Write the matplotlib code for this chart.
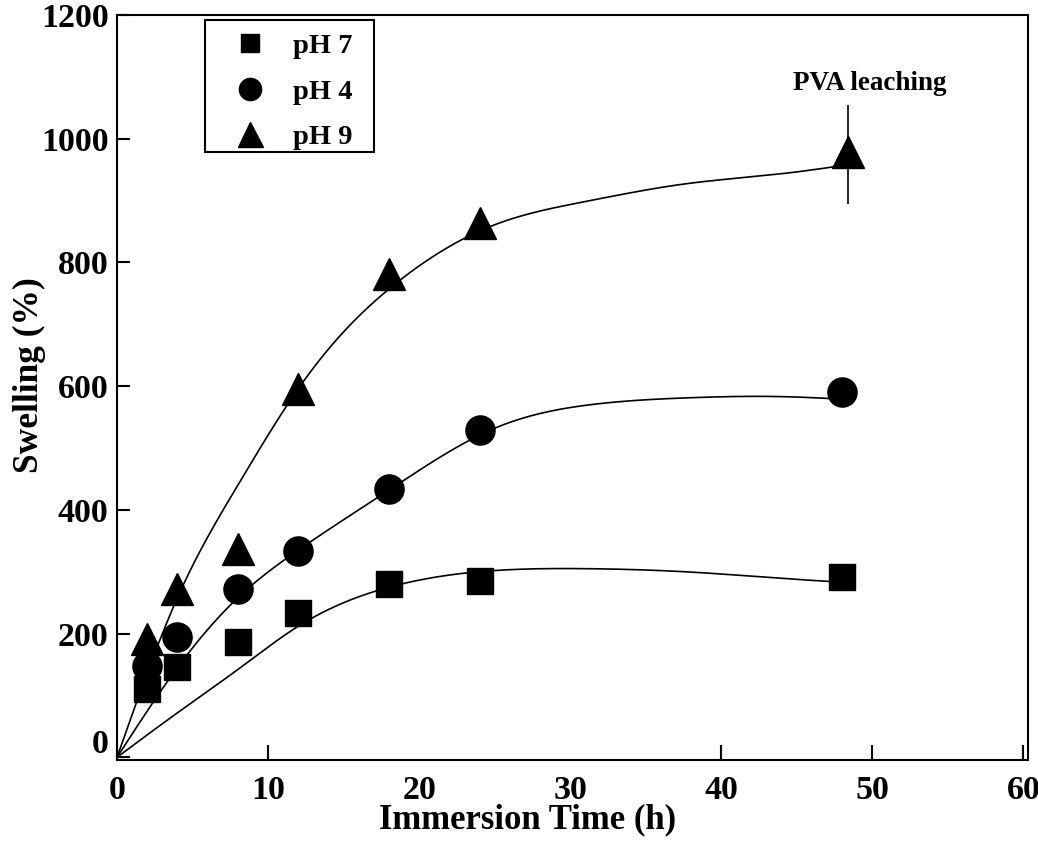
import numpy as np
import matplotlib
matplotlib.use("Agg")
import matplotlib.pyplot as plt
from matplotlib.lines import Line2D
from matplotlib.patches import Rectangle
from matplotlib.transforms import ScaledTranslation

# ==============================
# Data
# ==============================
time_h = [2, 4, 8, 12, 18, 24, 48]
time_ph9 = [2, 4, 8, 12, 18, 24, 48.4]

swell_ph7 = [111, 146, 186, 233, 280, 285, 291]
swell_ph4 = [147, 194, 272, 333, 433, 529, 590]
swell_ph9 = [192, 272, 336, 596, 782, 863, 979]

leach_err = 80          # vertical bar on last pH 9 point

# fitted trend lines
fit7_x = [0, 4, 8, 12, 18, 25, 31, 37.6, 44.2, 48]
fit7_y = [0, 72, 142, 212, 275, 302, 305, 300, 289, 283]

fit4_x = [0, 4, 8, 12, 18, 25, 31, 37.6, 44.2, 48]
fit4_y = [0, 145, 258, 335, 432, 532, 569, 581, 583, 579]

fit9_x = [0, 4, 8, 12, 14.67, 18, 24.9, 30.9, 37.6, 44.2, 48.4]
fit9_y = [0, 258, 440, 596, 679, 757, 860, 898, 927, 944, 958]

x_ticks = [0, 10, 20, 30, 40, 50, 60]
y_ticks = [0, 200, 400, 600, 800, 1000, 1200]


def natural_spline(xk, yk, n=400):
    xk = np.asarray(xk, float)
    yk = np.asarray(yk, float)
    m = len(xk)
    h = np.diff(xk)
    A = np.zeros((m, m))
    r = np.zeros(m)
    A[0, 0] = A[-1, -1] = 1
    for i in range(1, m - 1):
        A[i, i - 1] = h[i - 1]
        A[i, i] = 2 * (h[i - 1] + h[i])
        A[i, i + 1] = h[i]
        r[i] = 6 * ((yk[i + 1] - yk[i]) / h[i] - (yk[i] - yk[i - 1]) / h[i - 1])
    M = np.linalg.solve(A, r)
    xs = np.linspace(xk[0], xk[-1], n)
    idx = np.clip(np.searchsorted(xk, xs) - 1, 0, m - 2)
    x0, x1 = xk[idx], xk[idx + 1]
    hh = x1 - x0
    a = (x1 - xs) / hh
    b = (xs - x0) / hh
    ys = (a * yk[idx] + b * yk[idx + 1]
          + ((a**3 - a) * M[idx] + (b**3 - b) * M[idx + 1]) * hh**2 / 6)
    return xs, ys


# ==============================
# Figure
# ==============================
plt.rcParams['font.family'] = ['Liberation Serif', 'DejaVu Serif']
plt.rcParams['font.weight'] = 'bold'

fig = plt.figure(figsize=(10.38, 8.5), dpi=100)
ax = fig.add_axes([117 / 1038, 1 - 760 / 850, 911 / 1038, 745 / 850])

for fx, fy in [(fit7_x, fit7_y), (fit4_x, fit4_y), (fit9_x, fit9_y)]:
    sx, sy = natural_spline(fx, fy)
    ax.plot(sx, sy, color='black', lw=1.2, zorder=2)

ax.errorbar([time_ph9[-1]], [swell_ph9[-1] - 4], yerr=leach_err,
            fmt='none', ecolor='black', elinewidth=1.2, capsize=0, zorder=2)

ax.plot(time_h, swell_ph7, 's', color='black', ms=18.5, ls='none', zorder=3)
ax.plot(time_h, swell_ph4, 'o', color='black', ms=21, ls='none', zorder=3)
ax.plot(time_ph9, swell_ph9, '^', color='black', ms=23, ls='none', zorder=3)

ax.text(49.85, 1078, "PVA leaching", ha='center', va='baseline',
        fontsize=19.5, fontweight='bold')

ax.set_xlim(0, 60.3)
ax.set_ylim(-4.3, 1196)
ax.set_xticks(x_ticks)
ax.set_yticks(y_ticks)
ax.tick_params(axis='both', direction='in', width=1.5, labelsize=24.5)
ax.tick_params(axis='x', length=11, pad=11)
ax.tick_params(axis='y', length=9, pad=6)

for lab in ax.get_xticklabels() + ax.get_yticklabels():
    lab.set_fontweight('bold')

# only some tick marks show on the original
for i, t in enumerate(ax.xaxis.get_major_ticks()):
    if x_ticks[i] in (20, 30):
        t.tick1line.set_visible(False)

# the y "0" label sits above the corner
ylab0 = ax.get_yticklabels()[0]
ylab0.set_transform(ylab0.get_transform() +
                    ScaledTranslation(0, 11.5 / 72, fig.dpi_scale_trans))

for s in ax.spines.values():
    s.set_linewidth(1.5)

ax.set_xlabel("Immersion Time (h)", fontsize=25, fontweight='bold')
ax.set_ylabel("Swelling (%)", fontsize=25.5, fontweight='bold')
ax.xaxis.set_label_coords(0.4506, -0.058)
ax.yaxis.set_label_coords(-0.078, 0.517)

# legend: entries without frame, box drawn separately
handles = [
    Line2D([], [], marker='s', color='black', ls='none', ms=13),
    Line2D([], [], marker='o', color='black', ls='none', ms=16),
    Line2D([], [], marker='^', color='black', ls='none', ms=18),
]
leg = ax.legend(handles, ["pH 7", "pH 4", "pH 9"],
                loc='upper left', bbox_to_anchor=(0.1147, 0.9758),
                borderaxespad=0, frameon=False, handlelength=2.0,
                handletextpad=0.51, labelspacing=0.69, borderpad=0,
                prop={'weight': 'bold', 'size': 20.5})
ax.add_patch(Rectangle((0.0966, 0.8161), 0.1855, 0.1772,
                       transform=ax.transAxes, fill=False,
                       edgecolor='black', lw=1.5, zorder=4))

fig.savefig("out.png", dpi=100)
